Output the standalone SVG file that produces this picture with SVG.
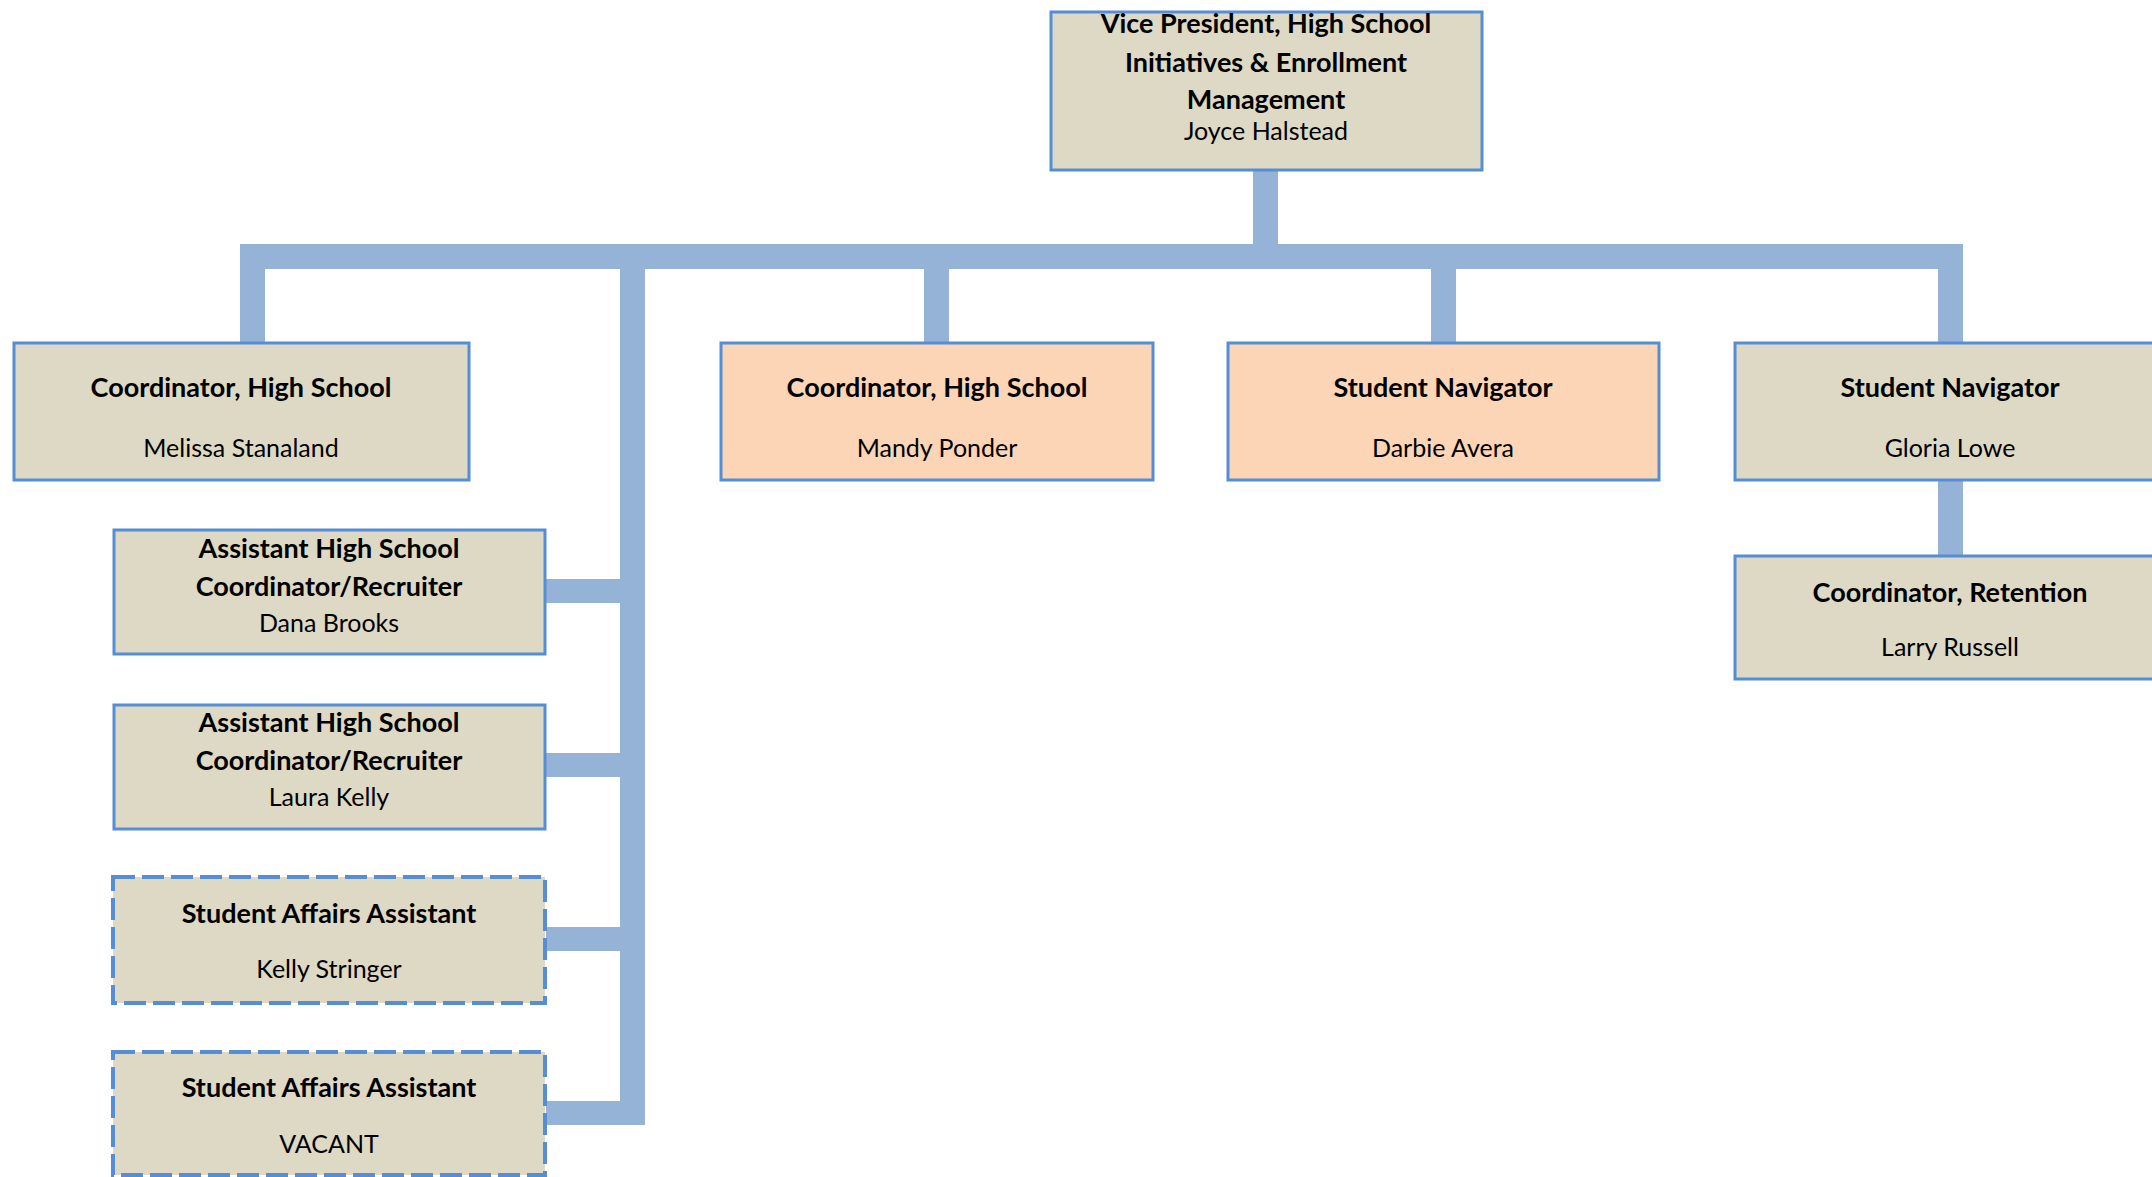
<svg xmlns="http://www.w3.org/2000/svg" width="2152" height="1177" viewBox="0 0 2152 1177">
<style>
.box{fill:#DDD9C4;stroke:#558ED5;stroke-width:3}
.peach{fill:#FBD5B5;stroke:#558ED5;stroke-width:3}
.dash{fill:#DDD9C4;stroke:#558ED5;stroke-width:4;stroke-dasharray:22 7}
.c{fill:#95B3D7}
text{font-family:Lato,"Open Sans",sans-serif;font-size:25px;fill:#000;text-anchor:middle}
.b{font-weight:bold;font-size:27px}
</style>
<rect width="2152" height="1177" fill="#fff"/>
<g id="connectors">
<rect class="c" x="1253" y="170" width="25" height="76"/>
<rect class="c" x="240" y="244" width="1723" height="25"/>
<rect class="c" x="240" y="244" width="25" height="99"/>
<rect class="c" x="620" y="244" width="25" height="881"/>
<rect class="c" x="924" y="244" width="25" height="99"/>
<rect class="c" x="1431" y="244" width="25" height="99"/>
<rect class="c" x="1938" y="244" width="25" height="99"/>
<rect class="c" x="1938" y="480" width="25" height="76"/>
<rect class="c" x="545" y="579" width="100" height="24"/>
<rect class="c" x="545" y="753" width="100" height="24"/>
<rect class="c" x="546" y="927" width="99" height="24"/>
<rect class="c" x="546" y="1101" width="99" height="24"/>
</g>
<g id="vp">
<rect class="box" x="1051" y="12" width="431" height="158"/>
<text class="b" x="1266" y="33">Vice President, High School</text>
<text class="b" x="1266" y="72">Initiatives &amp; Enrollment</text>
<text class="b" x="1266" y="109">Management</text>
<text x="1266" y="140">Joyce Halstead</text>
</g>
<g id="melissa">
<rect class="box" x="14" y="343" width="455" height="137"/>
<text class="b" x="241" y="397">Coordinator, High School</text>
<text x="241" y="457">Melissa Stanaland</text>
</g>
<g id="mandy">
<rect class="peach" x="721" y="343" width="432" height="137"/>
<text class="b" x="937" y="397">Coordinator, High School</text>
<text x="937" y="457">Mandy Ponder</text>
</g>
<g id="darbie">
<rect class="peach" x="1228" y="343" width="431" height="137"/>
<text class="b" x="1443" y="397">Student Navigator</text>
<text x="1443" y="457">Darbie Avera</text>
</g>
<g id="gloria">
<rect class="box" x="1735" y="343" width="431" height="137"/>
<text class="b" x="1950" y="397">Student Navigator</text>
<text x="1950" y="457">Gloria Lowe</text>
</g>
<g id="larry">
<rect class="box" x="1735" y="556" width="431" height="123"/>
<text class="b" x="1950" y="602">Coordinator, Retention</text>
<text x="1950" y="656">Larry Russell</text>
</g>
<g id="dana">
<rect class="box" x="114" y="530" width="431" height="124"/>
<text class="b" x="329" y="558">Assistant High School</text>
<text class="b" x="329" y="596">Coordinator/Recruiter</text>
<text x="329" y="632">Dana Brooks</text>
</g>
<g id="laura">
<rect class="box" x="114" y="705" width="431" height="124"/>
<text class="b" x="329" y="732">Assistant High School</text>
<text class="b" x="329" y="770">Coordinator/Recruiter</text>
<text x="329" y="806">Laura Kelly</text>
</g>
<g id="kelly">
<rect class="dash" x="113" y="877" width="432" height="126"/>
<text class="b" x="329" y="923">Student Affairs Assistant</text>
<text x="329" y="978">Kelly Stringer</text>
</g>
<g id="vacant">
<rect class="dash" x="113" y="1052" width="432" height="123"/>
<text class="b" x="329" y="1097">Student Affairs Assistant</text>
<text x="329" y="1153">VACANT</text>
</g>
</svg>
